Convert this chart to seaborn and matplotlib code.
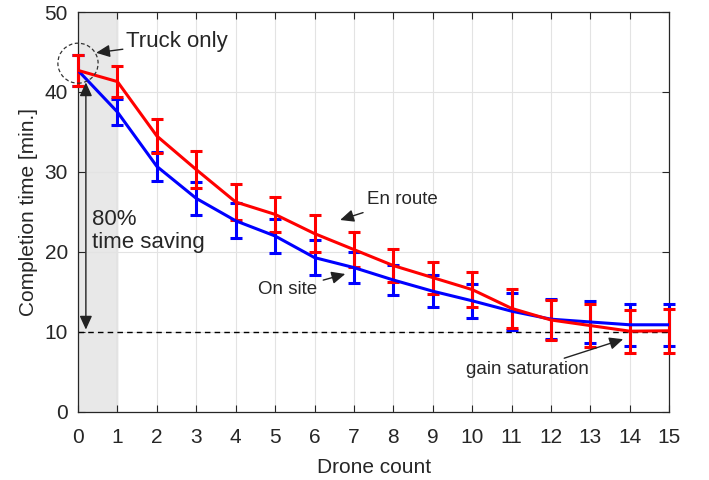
import numpy as np
import pandas as pd
import matplotlib
matplotlib.use('Agg')
import matplotlib.pyplot as plt
from matplotlib.patches import Ellipse
import seaborn as sns

drones = list(range(16))
en_route = [42.7, 41.3, 34.5, 30.3, 26.25, 24.7, 22.3, 20.3, 18.3, 16.8, 15.3, 12.95, 11.5, 10.8, 10.1, 10.15]
en_route_err = [1.9, 1.9, 2.1, 2.3, 2.25, 2.2, 2.3, 2.2, 2.1, 2.0, 2.2, 2.45, 2.5, 2.7, 2.7, 2.75]
on_site = [42.7, 37.5, 30.7, 26.7, 23.9, 22.0, 19.3, 18.05, 16.5, 15.1, 13.9, 12.6, 11.6, 11.25, 10.9, 10.9]
on_site_err = [1.9, 1.6, 1.8, 2.05, 2.2, 2.1, 2.2, 1.95, 1.9, 2.0, 2.1, 2.3, 2.5, 2.65, 2.6, 2.6]
saturation_level = 10

df = pd.DataFrame({
    'Drone count': drones * 2,
    'time': on_site + en_route,
    'err': on_site_err + en_route_err,
    'mode': ['On site'] * 16 + ['En route'] * 16,
})

sns.set_style('ticks')
plt.rcParams['font.family'] = ['Liberation Sans', 'DejaVu Sans']
txt = '#262626'

fig = plt.figure(figsize=(7.09, 4.8), dpi=100)
ax = fig.add_axes([0.110, 0.1417, 0.834, 0.8333])

# shaded "truck only" column
ax.axvspan(0, 1, color='#e8e8e8', zorder=0)
ax.axvline(1, color='#a8a8a8', lw=0.8, zorder=0.5)

colors = {'On site': '#0000ff', 'En route': '#ff0000'}
for mode in ['On site', 'En route']:
    d = df[df['mode'] == mode]
    eb = ax.errorbar(d['Drone count'], d['time'], yerr=d['err'], fmt='none',
                     ecolor=colors[mode], elinewidth=2.2, capsize=4.5, capthick=2.2, zorder=3)
    for art in eb.lines[1] + eb.lines[2]:
        art.set_clip_on(False)
sns.lineplot(data=df, x='Drone count', y='time', hue='mode', palette=colors,
             hue_order=['On site', 'En route'], lw=2.2, legend=False, ax=ax, zorder=4)

ax.plot([0, 15], [saturation_level, saturation_level], ls=(0, (4, 3)), color='black', lw=1.0, zorder=2)

# annotations
arrow = dict(arrowstyle='-|>,head_length=0.55,head_width=0.25', color='#222222', lw=1.0,
             mutation_scale=15, shrinkA=0, shrinkB=0)
ax.add_patch(Ellipse((0, 43.6), 1.02, 5.0, fill=False, ls=(0, (3, 2)), color='#333333', lw=0.9,
                     clip_on=False, zorder=5))
ax.annotate('Truck only', xy=(0.46, 44.9), xytext=(1.22, 46.25), fontsize=16, color=txt,
            va='center', ha='left', arrowprops=arrow)
ax.annotate('', xy=(0.2, 41.2), xytext=(0.2, 10.3),
            arrowprops={**arrow, 'arrowstyle': '<|-|>,head_length=0.55,head_width=0.25'}, zorder=5)
ax.text(0.36, 22.6, '80%\ntime saving', fontsize=16, color=txt, va='center', ha='left',
        linespacing=1.1)
ax.annotate('En route', xy=(6.65, 24.0), xytext=(7.33, 26.5), fontsize=13.5, color=txt,
            va='center', ha='left', arrowprops={**arrow, 'shrinkA': 2})
ax.annotate('On site', xy=(6.78, 17.25), xytext=(4.57, 15.25), fontsize=13.5, color=txt,
            va='center', ha='left', arrowprops={**arrow, 'shrinkA': 2})
ax.annotate('gain saturation', xy=(13.83, 9.1), xytext=(9.85, 5.25), fontsize=13.5, color=txt,
            va='center', ha='left', arrowprops=arrow)

ax.set_xlim(0, 15)
ax.set_ylim(0, 50)
ax.set_xticks(drones)
ax.set_yticks(range(0, 51, 10))
ax.grid(True, color='#e3e3e3', lw=0.8)
ax.set_axisbelow(True)
ax.tick_params(direction='in', top=True, right=True, labelsize=15, colors='#262626',
               length=5, width=0.8, labelcolor=txt)
ax.tick_params(axis='x', pad=11.5)
ax.tick_params(axis='y', pad=7.2)
for s in ax.spines.values():
    s.set_visible(True)
    s.set_color('#262626')
    s.set_linewidth(0.9)
ax.set_xlabel('Drone count', fontsize=15, color=txt, labelpad=8)
ax.set_ylabel('Completion time [min.]', fontsize=15, color=txt, labelpad=5)

fig.savefig('out.png', dpi=100)
